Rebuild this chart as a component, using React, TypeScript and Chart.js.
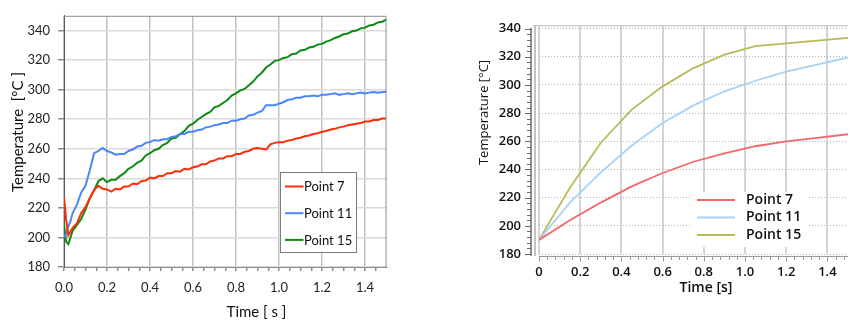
import React, { useEffect, useRef } from 'react';
import { Chart, registerables } from 'chart.js';
Chart.register(...registerables);

// ---------- shared ----------
const seriesLabels = ['Point 7', 'Point 11', 'Point 15'];

// ---------- left panel (measured) ----------
const timeMeasured = [
  0, 0.01, 0.02, 0.03, 0.04, 0.06, 0.08, 0.10, 0.12, 0.14, 0.16, 0.18, 0.20, 0.22, 0.24, 0.26,
  0.28, 0.30, 0.32, 0.34, 0.36, 0.38, 0.40, 0.42, 0.44, 0.46, 0.48, 0.50, 0.52, 0.54, 0.56, 0.58,
  0.60, 0.62, 0.64, 0.66, 0.68, 0.70, 0.72, 0.74, 0.76, 0.78, 0.80, 0.82, 0.84, 0.86, 0.88, 0.90,
  0.92, 0.94, 0.96, 0.98, 1.00, 1.02, 1.04, 1.06, 1.08, 1.10, 1.12, 1.14, 1.16, 1.18, 1.20, 1.22,
  1.24, 1.26, 1.28, 1.30, 1.32, 1.34, 1.36, 1.38, 1.40, 1.42, 1.44, 1.46, 1.48, 1.50,
];
const point7Measured = [
  227.5, 212, 201.5, 204, 206.5, 209.5, 216.5, 220.5, 226.5, 232, 235, 233, 232.5, 231, 233, 232.5,
  234.5, 234.5, 236.5, 236, 238, 238.5, 240.5, 240, 241.5, 241.5, 243.5, 243.5, 245, 244.5, 246.5, 246,
  247.5, 248, 249.5, 249.5, 251.5, 252, 253.5, 253.5, 255, 255, 256.5, 256.5, 258, 258.5, 260, 260.5,
  260, 259.5, 263, 264, 264.5, 264.5, 265.5, 266, 267, 267.5, 268.5, 269, 270, 270.5, 271.5, 272,
  273, 273.5, 274.5, 275, 276, 276.5, 277, 277.5, 278.5, 278.5, 279.5, 279.5, 280.5, 280.5,
];
const point11Measured = [
  200, 202.5, 207.5, 211, 216.5, 222, 230.5, 235, 245.5, 257, 258.5, 260.5, 258.5, 257.5, 256, 256.5,
  256.5, 258.5, 259.5, 261.5, 262, 264, 264.5, 266, 265.5, 266.5, 266.5, 268, 268.5, 270, 270, 271.5,
  271.5, 272.5, 273, 274.5, 275, 276, 276.5, 277.5, 277.5, 279, 279, 280, 280.5, 282.5, 283, 284.5,
  285.5, 289.5, 289.5, 289.5, 290.5, 291.5, 293, 293.5, 294.5, 294.5, 295.5, 295.5, 296, 295.5, 296.5, 296.5,
  297, 297.5, 296.5, 297, 297.5, 297, 297.5, 298, 297.5, 298, 298.5, 298, 298.5, 298.5,
];
const point15Measured = [
  209, 197, 195.5, 200, 204.5, 208.5, 212.5, 219, 226.5, 232, 238, 240, 237.5, 239, 239, 241.5,
  243.5, 246.5, 248, 250.5, 252, 255.5, 257, 259, 260, 262.5, 264, 267, 267.5, 270, 272, 275.5,
  277, 279.5, 281.5, 283.5, 285, 288, 289, 291, 293, 296, 297.5, 299.5, 300.5, 303, 305.5, 309,
  311.5, 315, 317, 319.5, 320, 321.5, 322, 324, 324.5, 326.5, 327, 328.5, 329, 330.5, 331, 332.5,
  333.5, 335, 336, 337.5, 338, 339.5, 340, 341.5, 342, 343.5, 344, 345.5, 346, 347.5,
];
const leftYTicks = [180, 200, 220, 240, 260, 280, 300, 320, 340];
const leftYLabels = ['180', '200', '220', '240', '260', '280', '300', '320', '340'];
const leftXTicks = [0, 0.2, 0.4, 0.6, 0.8, 1.0, 1.2, 1.4];
const leftXLabels = ['0.0', '0.2', '0.4', '0.6', '0.8', '1.0', '1.2', '1.4'];
const leftXTitle = 'Time [ s ]';
const leftYTitle = 'Temperature  [°C ]';

// ---------- right panel (simulated) ----------
const timeSimulated = [0, 0.15, 0.3, 0.45, 0.6, 0.75, 0.9, 1.05, 1.2, 1.35, 1.5];
const point7Simulated = [190, 204, 216.5, 228, 237.5, 245.5, 251.5, 256.5, 260, 262.5, 265];
const point11Simulated = [190, 216.5, 238, 257, 273, 285.5, 295.5, 303, 309.5, 314.5, 319.5];
const point15Simulated = [190, 227, 259, 282.5, 299, 312, 321.5, 327.5, 329.5, 331.5, 333.5];
const rightYTicks = [180, 200, 220, 240, 260, 280, 300, 320, 340];
const rightYLabels = ['180', '200', '220', '240', '260', '280', '300', '320', '340'];
const rightXTicks = [0, 0.2, 0.4, 0.6, 0.8, 1.0, 1.2, 1.4];
const rightXLabels = ['0', '0.2', '0.4', '0.6', '0.8', '1.0', '1.2', '1.4'];
const rightXTitle = 'Time [s]';
const rightYTitle = 'Temperature [°C]';

// ---------- styles ----------
const measuredColors = ['#ff2d05', '#4a86f8', '#0e8a12'];
const simulatedColors = ['#f26868', '#a6d2f6', '#b7ba58'];

const near = (a: number, b: number) => Math.abs(a - b) < 1e-6;
const labelFrom = (vals: number[], labels: string[]) => (v: any) => {
  const i = vals.findIndex((t) => near(t, Number(v)));
  return i >= 0 ? labels[i] : '';
};
const isMajor = (vals: number[], v: number) => vals.some((t) => near(t, v));

function withMinors(majors: number[], step: number, max: number) {
  const out: number[] = [];
  for (let i = 0; i * step <= max + 1e-9; i++) out.push(Math.round(i * step * 1000) / 1000);
  majors.forEach((m) => { if (!out.some((o) => near(o, m))) out.push(m); });
  return out.sort((a, b) => a - b);
}

const leftDecor = {
  id: 'leftDecor',
  afterDraw(chart: any) {
    const { ctx, chartArea: a } = chart;
    ctx.save();
    // top/right frame
    ctx.strokeStyle = '#8c8c8c';
    ctx.lineWidth = 1;
    ctx.beginPath();
    ctx.moveTo(a.left, a.top + 0.5);
    ctx.lineTo(a.right - 0.5, a.top + 0.5);
    ctx.lineTo(a.right - 0.5, a.bottom);
    ctx.stroke();
    // legend box
    const bx = 280.5, by = 172.5, bw = 76, bh = 80;
    ctx.fillStyle = '#ffffff';
    ctx.fillRect(bx, by, bw, bh);
    ctx.strokeStyle = '#7a7a7a';
    ctx.strokeRect(bx, by, bw, bh);
    ctx.font = '13px Lato';
    ctx.textAlign = 'left';
    ctx.textBaseline = 'middle';
    chart.data.datasets.forEach((ds: any, i: number) => {
      const y = by + 14 + i * 26.7;
      ctx.strokeStyle = ds.borderColor;
      ctx.lineWidth = 2;
      ctx.beginPath();
      ctx.moveTo(bx + 4.5, y);
      ctx.lineTo(bx + 23, y);
      ctx.stroke();
      ctx.fillStyle = '#111';
      ctx.fillText(ds.label, bx + 23.5, y + 0.5);
    });
    // axis titles
    ctx.fillStyle = '#111';
    ctx.font = '15px Lato';
    ctx.textAlign = 'center';
    ctx.fillText(leftXTitle, 256.5, 312);
    ctx.translate(18, 132);
    ctx.rotate(-Math.PI / 2);
    ctx.fillText(leftYTitle, 0, 0);
    ctx.restore();
  },
};

const rightDecor = {
  id: 'rightDecor',
  afterDraw(chart: any) {
    const { ctx, chartArea: a, scales } = chart;
    ctx.save();
    // top frame
    ctx.strokeStyle = '#d0d0d0';
    ctx.lineWidth = 1.5;
    ctx.beginPath();
    ctx.moveTo(a.left - 6, a.top);
    ctx.lineTo(a.right, a.top);
    ctx.stroke();
    // inner light axis strip
    ctx.strokeStyle = '#c4c4c4';
    ctx.lineWidth = 2;
    ctx.beginPath();
    ctx.moveTo(a.left - 4, a.top);
    ctx.lineTo(a.left - 4, a.bottom + 2);
    ctx.stroke();
    // dark axis line
    const ax = a.left - 8;
    ctx.strokeStyle = '#6a6a6a';
    ctx.lineWidth = 1.5;
    ctx.beginPath();
    ctx.moveTo(ax, a.top + 2);
    ctx.lineTo(ax, a.bottom + 2);
    ctx.stroke();
    // y tick marks (major + minor)
    ctx.lineWidth = 1;
    ctx.strokeStyle = '#6a6a6a';
    for (let v = 180; v <= 340; v += 4) {
      const y = Math.round(scales.y.getPixelForValue(v)) + 0.5;
      const len = v % 20 === 0 ? 6 : 4;
      ctx.beginPath();
      ctx.moveTo(ax - len, y);
      ctx.lineTo(ax, y);
      ctx.stroke();
    }
    // x axis line + ticks
    const by = a.bottom + 2.5;
    ctx.strokeStyle = '#9a9a9a';
    ctx.beginPath();
    ctx.moveTo(a.left, by);
    ctx.lineTo(a.right, by);
    ctx.stroke();
    for (let i = 0; i * 0.04 <= 1.5 + 1e-9; i++) {
      const x = Math.round(scales.x.getPixelForValue(i * 0.04)) + 0.5;
      const len = i % 5 === 0 ? 5 : 3.5;
      ctx.beginPath();
      ctx.moveTo(x, by);
      ctx.lineTo(x, by + len);
      ctx.stroke();
    }
    // legend
    ctx.fillStyle = '#ffffff';
    ctx.fillRect(272, 192, 115, 55);
    ctx.font = '600 14px "Open Sans"';
    ctx.textAlign = 'left';
    ctx.textBaseline = 'middle';
    chart.data.datasets.forEach((ds: any, i: number) => {
      const y = 200 + i * 17.5;
      ctx.strokeStyle = ds.borderColor;
      ctx.lineWidth = 2;
      ctx.beginPath();
      ctx.moveTo(277, y);
      ctx.lineTo(315, y);
      ctx.stroke();
      ctx.fillStyle = '#111';
      ctx.fillText(ds.label, 326, y);
    });
    // titles
    ctx.fillStyle = '#111';
    ctx.textAlign = 'center';
    ctx.font = '600 14px "Open Sans"';
    ctx.fillText(rightXTitle, 286, 288);
    ctx.font = '13px "Open Sans"';
    ctx.translate(64, 112.5);
    ctx.rotate(-Math.PI / 2);
    ctx.fillText(rightYTitle, 0, 0);
    ctx.restore();
  },
};

function LeftChart() {
  const ref = useRef<HTMLCanvasElement>(null);
  useEffect(() => {
    const series = [point7Measured, point11Measured, point15Measured];
    const xTickVals = withMinors(leftXTicks, 0.05, 1.45);
    const chart = new Chart(ref.current as HTMLCanvasElement, {
      type: 'line',
      data: {
        datasets: series.map((vals, i) => ({
          label: seriesLabels[i],
          data: timeMeasured.map((t, j) => ({ x: t, y: vals[j] })),
          borderColor: measuredColors[i],
          borderWidth: 2,
          pointRadius: 0,
          tension: 0,
          fill: false,
        })),
      },
      options: {
        responsive: false,
        animation: false,
        layout: { padding: { top: 11, right: 13.5, left: 0, bottom: 0 } },
        plugins: { legend: { display: false }, tooltip: { enabled: false } },
        scales: {
          x: {
            type: 'linear',
            min: 0,
            max: 1.5,
            afterFit: (s: any) => { s.height = 56; },
            afterBuildTicks: (s: any) => { s.ticks = xTickVals.map((v) => ({ value: v })); },
            ticks: {
              autoSkip: false,
              maxRotation: 0,
              padding: 9,
              color: '#222',
              font: { family: 'Lato', size: 13 },
              callback: labelFrom(leftXTicks, leftXLabels),
            },
            grid: {
              color: (c: any) => (isMajor(leftXTicks, c.tick?.value) ? '#c2c2c2' : 'rgba(0,0,0,0)'),
              tickColor: '#8c8c8c',
              lineWidth: 1.5,
              tickLength: 4,
            },
            border: { color: '#8c8c8c', width: 1 },
          },
          y: {
            type: 'linear',
            min: 180,
            max: 350,
            afterFit: (s: any) => { s.width = 64; },
            afterBuildTicks: (s: any) => { s.ticks = leftYTicks.map((v) => ({ value: v })); },
            ticks: {
              padding: 8,
              color: '#222',
              font: { family: 'Lato', size: 13 },
              callback: labelFrom(leftYTicks, leftYLabels),
            },
            grid: { color: '#dadada', lineWidth: 1.5, tickColor: '#8c8c8c', tickLength: 6 },
            border: { color: '#5a5a5a', width: 1 },
          },
        },
      },
      plugins: [leftDecor],
    } as any);
    return () => chart.destroy();
  }, []);
  return (
    <canvas ref={ref} width={400} height={323} style={{ position: 'absolute', left: 0, top: 0 }} />
  );
}

function RightChart() {
  const ref = useRef<HTMLCanvasElement>(null);
  useEffect(() => {
    const series = [point7Simulated, point11Simulated, point15Simulated];
    const chart = new Chart(ref.current as HTMLCanvasElement, {
      type: 'line',
      data: {
        datasets: series.map((vals, i) => ({
          label: seriesLabels[i],
          data: timeSimulated.map((t, j) => ({ x: t, y: vals[j] })),
          borderColor: simulatedColors[i],
          borderWidth: 1.8,
          pointRadius: 0,
          tension: 0,
          fill: false,
        })),
      },
      options: {
        responsive: false,
        animation: false,
        layout: { padding: { top: 7, right: 4, left: 0, bottom: 0 } },
        plugins: { legend: { display: false }, tooltip: { enabled: false } },
        scales: {
          x: {
            type: 'linear',
            min: 0,
            max: 1.5,
            afterFit: (s: any) => { s.height = 69; },
            afterBuildTicks: (s: any) => { s.ticks = rightXTicks.map((v) => ({ value: v })); },
            ticks: {
              autoSkip: false,
              maxRotation: 0,
              padding: 10,
              color: '#111',
              font: { family: 'Open Sans', size: 13, weight: '600' },
              callback: labelFrom(rightXTicks, rightXLabels),
            },
            grid: { color: '#d4d4d4', lineWidth: 2, drawTicks: false },
            border: { display: false },
          },
          y: {
            type: 'linear',
            min: 180,
            max: 342,
            afterFit: (s: any) => { s.width = 119; },
            afterBuildTicks: (s: any) => { s.ticks = rightYTicks.map((v) => ({ value: v })); },
            ticks: {
              padding: 18,
              color: '#111',
              font: { family: 'Open Sans', size: 13, weight: '600' },
              callback: labelFrom(rightYTicks, rightYLabels),
            },
            grid: { color: '#b0b0b0', lineWidth: 1, drawTicks: false },
            border: { display: false, dash: [1, 2] },
          },
        },
      },
      plugins: [rightDecor],
    } as any);
    return () => chart.destroy();
  }, []);
  return (
    <canvas ref={ref} width={432} height={323} style={{ position: 'absolute', left: 420, top: 0 }} />
  );
}

export default function App() {
  return (
    <div style={{ position: 'absolute', left: 0, top: 0, width: 852, height: 323, background: '#fff', overflow: 'hidden' }}>
      <LeftChart />
      <RightChart />
    </div>
  );
}
